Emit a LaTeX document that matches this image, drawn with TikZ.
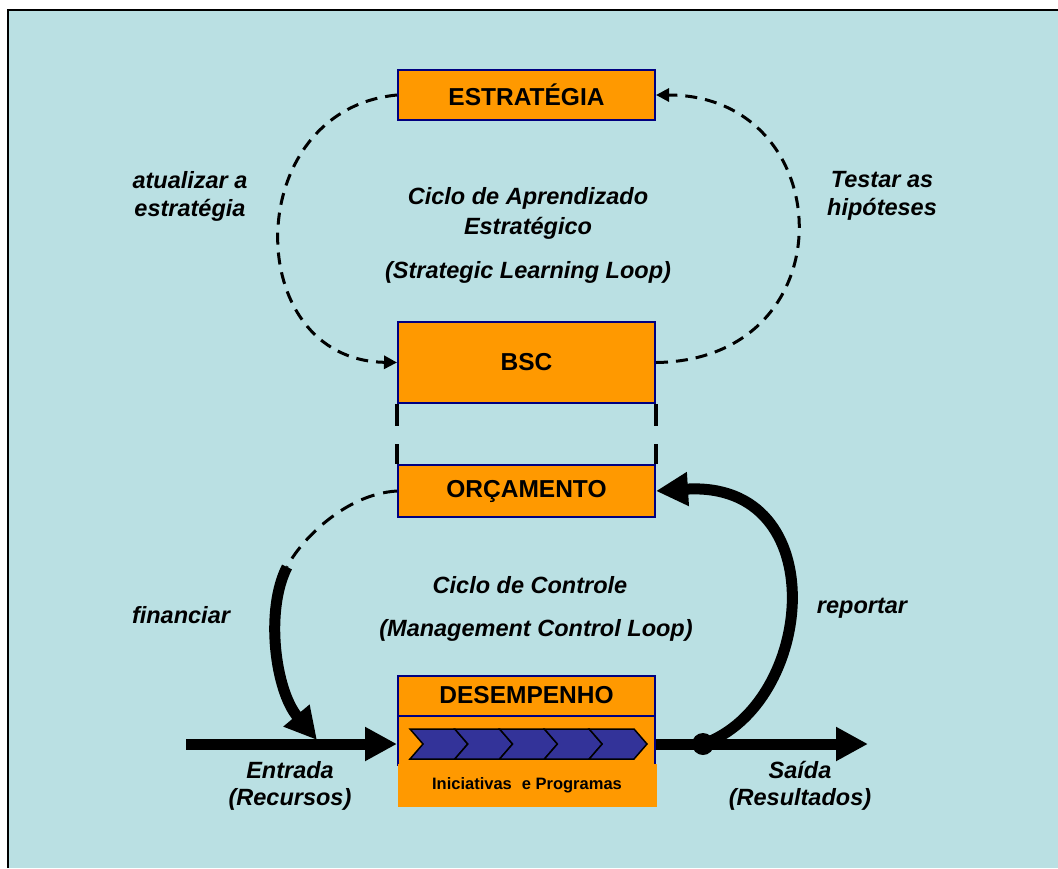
\documentclass[tikz,border=0pt]{standalone}
\usepackage{fontspec}
\setmainfont{Liberation Sans}
\usepackage{tikz}
\usetikzlibrary{arrows.meta, positioning, calc}
\definecolor{fundo}{HTML}{BAE0E3}
\definecolor{laranja}{HTML}{FF9900}
\definecolor{marinho}{HTML}{000080}
\definecolor{seta}{HTML}{333399}

\begin{document}
\begin{tikzpicture}[
    x=1pt, y=-1pt,
    caixa/.style={rectangle, draw=marinho, line width=2pt, fill=laranja, minimum width=257pt, inner sep=0pt, font=\fontsize{24.5}{28}\selectfont\bfseries},
    rotulo/.style={align=center, font=\fontsize{23.5}{28}\selectfont\bfseries\itshape},
    tracejado/.style={line width=3pt, dash pattern=on 12pt off 8pt, -{Triangle[length=13pt, width=13pt]}},
    grosso/.style={line width=11pt, -{Triangle[length=32pt, width=32pt]}}
]
    \useasboundingbox (0,0) rectangle (1058,868);
    \fill[fundo] (8,10) rectangle (1058,868);
    \draw[line width=1.5pt] (8,868) -- (8,10) -- (1058,10);

    % caixas
    \node[caixa, minimum height=50pt] (estrategia) at (526.5,95) {ESTRATÉGIA};
    \node[caixa, minimum height=81pt] (bsc) at (526.5,362.5) {BSC};
    \node[caixa, minimum height=52pt] (orcamento) at (526.5,491) {ORÇAMENTO};
    \node[caixa, minimum height=50pt] (acoes) at (526.5,740) {};
    \node[rectangle, fill=laranja, minimum width=259pt, minimum height=43pt, inner sep=0pt,
          font=\fontsize{16.5}{20}\selectfont\bfseries] (iniciativas) at (527,785.5) {Iniciativas\hspace{10pt}e Programas};
    \node[caixa, minimum height=40pt] (desempenho) at (526.5,695.5) {DESEMPENHO};
    \foreach \i in {0,...,4}
        \filldraw[fill=seta, draw=black, line width=1.5pt] ({410+44.8*\i},729) -- ++(44.8,0) -- ++(13,15) -- ++(-13,15) -- ++(-44.8,0) -- ++(13,-15) -- cycle;

    \draw[line width=4pt, dash pattern=on 22pt off 18pt] (bsc.south west) -- (orcamento.north west);
    \draw[line width=4pt, dash pattern=on 22pt off 18pt] (bsc.south east) -- (orcamento.north east);

    % ciclo estrategico
    \draw[tracejado] (estrategia.west) .. controls (240,110) and (240,360) .. (bsc.west);
    \draw[tracejado] (bsc.east) .. controls (850,360) and (840,95) .. (estrategia.east);

    % ciclo de controle
    \coordinate (entrada) at (186,744);
    \coordinate (saida) at (868,744);
    \coordinate (quebra) at (287,567);
    \coordinate (pouso) at (317,740);
    \draw[grosso] (entrada) -- (entrada -| acoes.west);
    \draw[grosso] (saida -| acoes.east) -- (saida);
    \node[circle, fill=black, minimum size=22pt, inner sep=0pt] (ponto) at (703,744) {};
    \draw[grosso] (ponto.center) .. controls (815,705) and (835,480) .. (orcamento.east);
    \draw[line width=3pt, dash pattern=on 14pt off 9pt] (orcamento.west) .. controls (345,494) and (300,541) .. (quebra);
    \draw[grosso] (quebra) .. controls (265,610) and (275,690) .. (pouso);

    % textos
    \node[rotulo] (atualizar) at (190,196) {atualizar a\\estratégia};
    \node[rotulo] (testar) at (882,196) {Testar as\\hipóteses};
    \node[rotulo, font=\fontsize{23.5}{30}\selectfont\bfseries\itshape] (aprendizado) at (528,213) {Ciclo de Aprendizado\\Estratégico};
    \node[rotulo] (learning) at (528,272) {(Strategic Learning Loop)};
    \node[rotulo] (financiar) at (181,615) {financiar};
    \node[rotulo] (controle) at (530,585) {Ciclo de Controle};
    \node[rotulo] (management) at (536,630) {(Management Control Loop)};
    \node[rotulo] (reportar) at (862,608) {reportar};
    \node[rotulo, font=\fontsize{23.5}{27}\selectfont\bfseries\itshape] (recursos) at (290,786) {Entrada\\(Recursos)};
    \node[rotulo, font=\fontsize{23.5}{27}\selectfont\bfseries\itshape] (resultados) at (800,786) {Saída\\(Resultados)};
\end{tikzpicture}
\end{document}
